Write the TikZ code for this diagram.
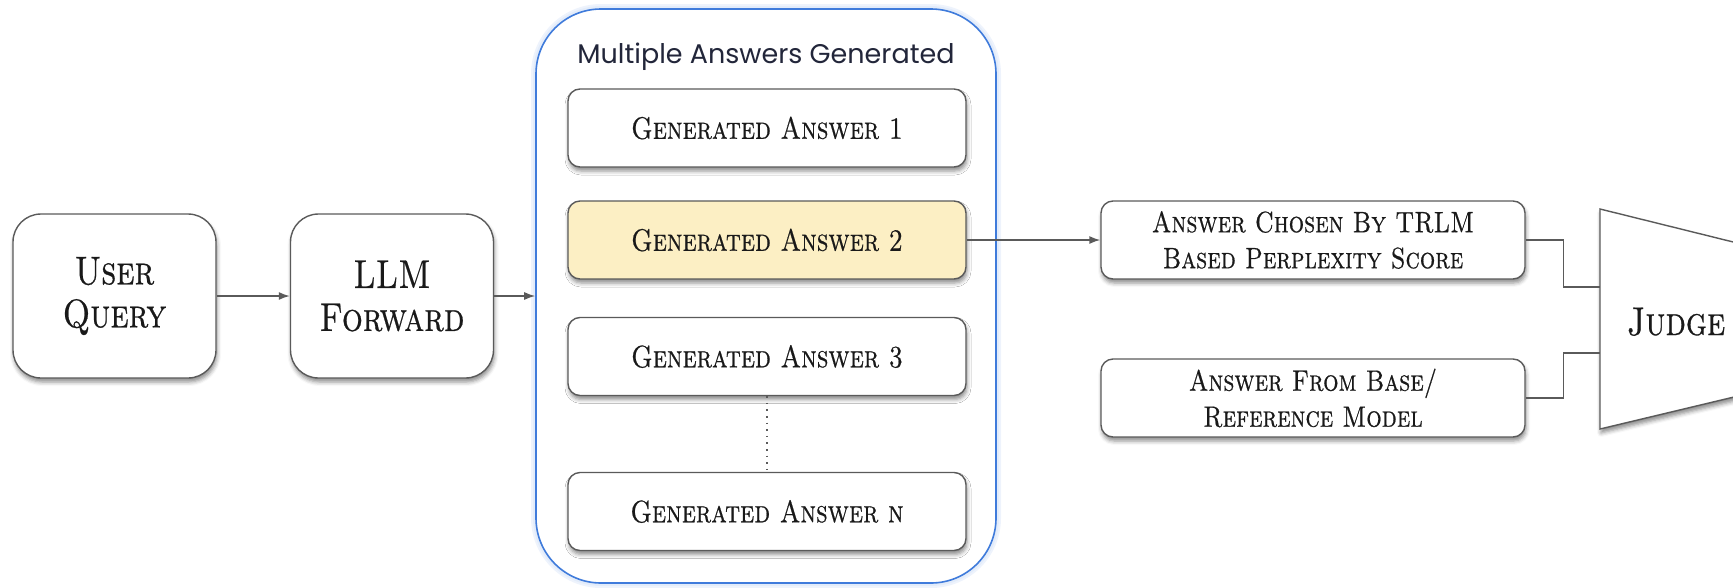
\documentclass[tikz,border=0pt]{standalone}
\usepackage{fontspec}
\newfontfamily\titlefont{Poppins}
\newfontfamily\boxfont{lmromancaps10-regular.otf}[FakeStretch=0.82,FakeBold=0.6]
\usetikzlibrary{arrows.meta,shadows,shadows.blur}
\definecolor{edge}{HTML}{5A5A5A}
\definecolor{hilite}{HTML}{FCEFC4}
\definecolor{contblue}{HTML}{3F7BDB}
\definecolor{titlecol}{HTML}{22263A}
\tikzset{
  box/.style={draw=edge, line width=1.4pt, fill=white, rounded corners=12pt,
    align=center, inner sep=0pt, text=black!90,
    blur shadow={shadow xshift=1pt, shadow yshift=-4pt, shadow blur radius=4pt, shadow opacity=45}},
  bigbox/.style={box, rounded corners=28pt, minimum width=203pt, minimum height=164pt,
    font=\boxfont\fontsize{40}{43}\selectfont},
  ansbox/.style={box, minimum width=398pt, minimum height=78pt,
    font=\boxfont\fontsize{31}{34}\selectfont},
  sidebox/.style={box, minimum width=424pt, minimum height=78pt,
    font=\boxfont\fontsize{29.5}{36}\selectfont},
  conn/.style={draw=edge, line width=1.4pt},
  arr/.style={conn, -{Latex[length=11pt,width=8pt]}},
  glow/.style={draw=contblue!25, rounded corners=65pt, opacity=0.35},
}
\begin{document}
\begin{tikzpicture}[x=1pt,y=-1pt]
\useasboundingbox (0,0) rectangle (1733,587);
\clip (0,0) rectangle (1733,587);
% container glow
\draw[glow, line width=10pt] (536,9) rectangle (996,583);
\draw[glow, line width=6pt] (536,9) rectangle (996,583);
% container
\node[draw=contblue, line width=1.6pt, fill=white, rounded corners=65pt,
  minimum width=460pt, minimum height=574pt, inner sep=0pt] (cont) at (766,296) {};
\node[anchor=base, font=\titlefont\fontsize{27}{30}\selectfont, text=titlecol] (title) at (766,63) {Multiple Answers Generated};
% left boxes
\node[bigbox] (uq) at (114.5,296) {User\\Query};
\node[bigbox] (llm) at (392,296) {LLM\\Forward};
% answers
\node[ansbox] (a1) at (767,128) {Generated Answer 1};
\node[ansbox, fill=hilite] (a2) at (767,240) {Generated Answer 2};
\node[ansbox] (a3) at (767,356.5) {Generated Answer 3};
\node[ansbox] (an) at (767,511.5) {Generated Answer n};
% right boxes
\node[sidebox] (ac) at (1313,240) {Answer Chosen By TRLM\\Based Perplexity Score};
\node[sidebox] (af) at (1313,398) {Answer From Base/\\Reference Model};
% judge
\draw[draw=edge, line width=1.4pt, fill=white,
  blur shadow={shadow xshift=1pt, shadow yshift=-4pt, shadow blur radius=4pt, shadow opacity=45}]
  (1600,209) -- (1780,253.6) -- (1780,386) -- (1600,429) -- cycle;
\node[anchor=base, font=\boxfont\fontsize{40}{43}\selectfont, text=black!90] (judge) at (1676,335) {Judge};
\coordinate (jin1) at (1600,287);
\coordinate (jin2) at (1600,353);
% connectors
\draw[arr] (uq.east) -- (llm.west);
\draw[arr] (llm.east) -- (cont.west);
\draw[arr] (a2.east) -- (ac.west);
\draw[conn, line width=1.6pt, dash pattern=on 1.6pt off 5pt] (a3.south) -- (an.north);
\draw[conn] (ac.east) -- ++(38,0) |- (jin1);
\draw[conn] (af.east) -- ++(38,0) |- (jin2);
\end{tikzpicture}
\end{document}
